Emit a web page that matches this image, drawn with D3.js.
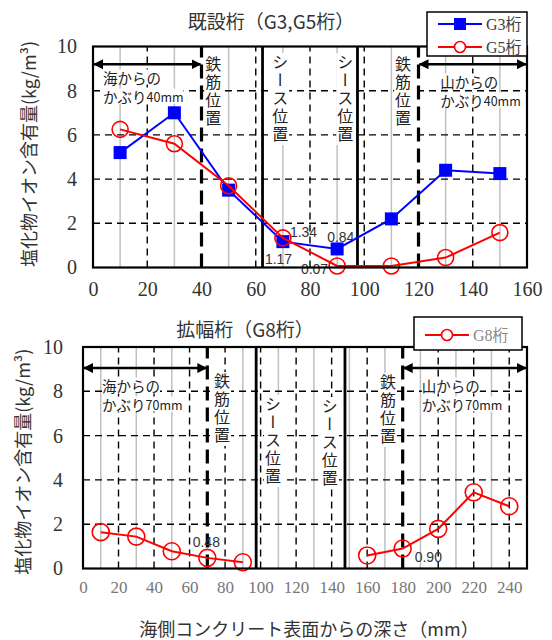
<!DOCTYPE html>
<html>
<head>
<meta charset="utf-8">
<script src="https://cdn.jsdelivr.net/npm/d3@7"></script>
<style>
  body { margin: 0; background: #fff; }
  svg { display: block; }
</style>
</head>
<body>
<svg id="canvas" width="552" height="640"></svg>
<script>
// depth (mm) and chloride content (kg/m3)
const topDepth = [10, 30, 50, 70, 90, 110, 130, 150]
const g3Values = [5.2, 7.0, 3.5, 1.17, 0.84, 2.2, 4.4, 4.25]
const g5Values = [6.25, 5.6, 3.7, 1.34, 0.07, 0.07, 0.45, 1.58]

const g8SeaDepth = [10, 30, 50, 70, 90]
const g8SeaValues = [1.64, 1.44, 0.78, 0.48, 0.28]
const g8MountainDepth = [160, 180, 200, 220, 240]
const g8MountainValues = [0.59, 0.90, 1.79, 3.44, 2.81]

const yTicks = [0, 2, 4, 6, 8, 10]
const yGrid = [2, 4, 6, 8]
const topXTicks = [0, 20, 40, 60, 80, 100, 120, 140, 160]
const bottomXTicks = [0, 20, 40, 60, 80, 100, 120, 140, 160, 180, 200, 220, 240]

const topRebar = [40, 120]
const topSheath = [62.5, 97.5]
const bottomRebar = [70, 180]
const bottomSheath = [97.5, 147.5]

const CJK = '"Noto Sans CJK JP", sans-serif'
const SERIF = '"Liberation Serif", "DejaVu Serif", serif'

let svg = d3.select('#canvas')

let defs = svg.append('defs')
defs.append('marker')
    .attr('id', 'arrow')
    .attr('viewBox', '0 0 10 10')
    .attr('refX', 9).attr('refY', 5)
    .attr('markerWidth', 4).attr('markerHeight', 4)
    .attr('orient', 'auto-start-reverse')
    .append('path')
    .attr('d', 'M0,0 L10,5 L0,10 z')
    .attr('fill', '#000')

let drawPanel = (p) => {
    let x = d3.scaleLinear().domain([0, p.xMax]).range([p.left, p.right])
    let y = d3.scaleLinear().domain([0, 10]).range([p.bottom, p.top])
    let g = svg.append('g')

    // light grey lines at the sampling depths
    g.selectAll('.gray').data(p.grayX).enter().append('line')
     .attr('x1', d => x(d)).attr('x2', d => x(d))
     .attr('y1', y(0)).attr('y2', y(10))
     .attr('stroke', '#c0c0c0').attr('stroke-width', 1.5)

    g.selectAll('.vdash').data(p.dashX).enter().append('line')
     .attr('x1', d => x(d)).attr('x2', d => x(d))
     .attr('y1', y(0)).attr('y2', y(10))
     .attr('stroke', '#000').attr('stroke-width', 1.4)
     .attr('stroke-dasharray', '7,5')

    g.selectAll('.hdash').data(yGrid).enter().append('line')
     .attr('x1', x(0)).attr('x2', x(p.xMax))
     .attr('y1', d => y(d)).attr('y2', d => y(d))
     .attr('stroke', '#000').attr('stroke-width', 1.4)
     .attr('stroke-dasharray', '7,5')

    // rebar (thick dashed) and sheath (thick solid)
    g.selectAll('.rebar').data(p.rebar).enter().append('line')
     .attr('x1', d => x(d)).attr('x2', d => x(d))
     .attr('y1', y(0)).attr('y2', y(10))
     .attr('stroke', '#000').attr('stroke-width', 3.2)
     .attr('stroke-dasharray', '14,7')

    g.selectAll('.sheath').data(p.sheath).enter().append('line')
     .attr('x1', d => x(d)).attr('x2', d => x(d))
     .attr('y1', y(0)).attr('y2', y(10))
     .attr('stroke', '#000').attr('stroke-width', 2.8)

    // vertical notes
    p.vnotes.forEach(n => {
        let chars = n.text.length
        g.append('rect')
         .attr('x', x(n.x) - 9).attr('y', n.top - 1)
         .attr('width', 18).attr('height', chars * 18 + 2)
         .attr('fill', '#fff')
        g.append('text')
         .attr('font-family', CJK)
         .attr('x', x(n.x)).attr('y', n.top)
         .style('writing-mode', 'vertical-rl')
         .style('letter-spacing', '2px')
         .attr('font-size', 16)
         .attr('fill', '#222')
         .text(n.text)
    })

    // horizontal notes
    p.hnotes.forEach(n => {
        let t = g.append('text')
                 .attr('font-family', CJK)
                 .attr('x', x(n.x)).attr('y', n.y)
                 .attr('dominant-baseline', 'central')
                 .attr('font-size', 14.5)
                 .attr('fill', '#222')
        t.append('tspan').text(n.text)
        if (n.small) {
            t.append('tspan').attr('font-size', 12.5).text(n.small)
        }
        let bb = t.node().getBBox()
        g.insert('rect', function() { return t.node() })
         .attr('x', bb.x).attr('y', bb.y + 3)
         .attr('width', bb.width).attr('height', bb.height - 6)
         .attr('fill', '#fff')
    })

    // cover arrows
    p.arrows.forEach(a => {
        g.append('line')
         .attr('x1', x(a[0]) + 1).attr('x2', x(a[1]) - 1)
         .attr('y1', y(p.arrowY)).attr('y2', y(p.arrowY))
         .attr('stroke', '#000').attr('stroke-width', 2.5)
         .attr('marker-start', 'url(#arrow)')
         .attr('marker-end', 'url(#arrow)')
    })

    // series
    p.series.forEach(s => {
        let pts = s.depth.map((d, i) => [d, s.values[i]])
        let line = d3.line().x(d => x(d[0])).y(d => y(d[1]))
        g.append('path')
         .attr('d', line(pts))
         .attr('fill', 'none')
         .attr('stroke', s.color).attr('stroke-width', 2)
        if (s.marker === 'square') {
            g.selectAll(null).data(pts).enter().append('rect')
             .attr('x', d => x(d[0]) - 6.5).attr('y', d => y(d[1]) - 6.5)
             .attr('width', 13).attr('height', 13)
             .attr('fill', s.color)
        } else {
            g.selectAll(null).data(pts).enter().append('circle')
             .attr('cx', d => x(d[0])).attr('cy', d => y(d[1]))
             .attr('r', s.r)
             .attr('fill', 'none')
             .attr('stroke', s.color).attr('stroke-width', 1.6)
        }
    })

    // value labels
    p.labels.forEach(l => {
        g.append('text')
         .attr('x', x(l.x) + l.dx).attr('y', y(l.y) + l.dy)
         .attr('dominant-baseline', 'central')
         .attr('text-anchor', l.anchor)
         .attr('font-family', '"Liberation Sans", sans-serif')
         .attr('font-size', 14)
         .attr('fill', '#333')
         .text(l.text)
    })

    // frame
    g.append('rect')
     .attr('x', x(0)).attr('y', y(10))
     .attr('width', x(p.xMax) - x(0)).attr('height', y(0) - y(10))
     .attr('fill', 'none').attr('stroke', '#000').attr('stroke-width', 2.2)

    // axes
    let yAxis = g.append('g')
                 .attr('transform', 'translate(' + x(0) + ',0)')
                 .call(d3.axisLeft(y).tickValues(yTicks).tickSize(0).tickPadding(p.yPad))
    yAxis.select('.domain').remove()
    yAxis.attr('font-family', SERIF).attr('font-size', 20)
    yAxis.selectAll('text').attr('fill', '#333')

    let xAxis = g.append('g')
                 .attr('transform', 'translate(0,' + y(0) + ')')
                 .call(d3.axisBottom(x).tickValues(p.xTicks).tickSize(0).tickPadding(p.xPad))
    xAxis.select('.domain').remove()
    xAxis.attr('font-family', SERIF).attr('font-size', p.xFont)
    xAxis.selectAll('text').attr('fill', p.xColor)

    // y axis title
    svg.append('text')
       .attr('font-family', CJK)
       .attr('transform', 'translate(' + p.yTitleX + ',' + (y(5) + p.yTitleShift) + ') rotate(-90)')
       .attr('text-anchor', 'middle')
       .attr('dominant-baseline', 'central')
       .attr('font-size', 18)
       .attr('fill', '#333')
       .text('塩化物イオン含有量(kg/m³)')

    // title
    svg.append('text')
       .attr('font-family', CJK)
       .attr('x', p.titleX).attr('y', p.titleY)
       .attr('text-anchor', 'middle')
       .attr('dominant-baseline', 'central')
       .attr('font-size', 19)
       .attr('fill', '#333')
       .text(p.title)

    // legend
    let lg = svg.append('g')
    lg.append('rect')
      .attr('x', p.legend.x).attr('y', p.legend.y)
      .attr('width', p.legend.w).attr('height', p.legend.h)
      .attr('fill', '#fff').attr('stroke', '#000').attr('stroke-width', 1.5)
    p.series.filter(s => s.name).forEach((s, i) => {
        let cy = p.legend.y + p.legend.first + i * 23
        let x0 = p.legend.x + 11
        lg.append('line')
          .attr('x1', x0).attr('x2', x0 + 44)
          .attr('y1', cy).attr('y2', cy)
          .attr('stroke', s.color).attr('stroke-width', 2)
        if (s.marker === 'square') {
            lg.append('rect')
              .attr('x', x0 + 22 - 6).attr('y', cy - 6)
              .attr('width', 12).attr('height', 12).attr('fill', s.color)
        } else {
            lg.append('circle')
              .attr('cx', x0 + 22).attr('cy', cy).attr('r', 5.5)
              .attr('fill', '#fff').attr('stroke', s.color).attr('stroke-width', 1.6)
        }
        lg.append('text')
          .attr('x', x0 + 48).attr('y', cy)
          .attr('dominant-baseline', 'central')
          .attr('font-family', '"Liberation Serif", "Noto Sans CJK JP", serif')
          .attr('font-size', 16)
          .attr('fill', p.legend.color)
          .text(s.name)
    })
}

drawPanel({
    left: 93, right: 527, top: 46.5, bottom: 267.5, xMax: 160,
    xTicks: topXTicks, xPad: 14, xFont: 20, xColor: '#333', yPad: 16,
    grayX: [10, 30, 50, 70, 90, 110, 130, 150],
    dashX: [20, 60, 80, 100, 140],
    rebar: topRebar, sheath: topSheath,
    arrowY: 9.2,
    arrows: [[0, 40], [120, 160]],
    vnotes: [
        {text: '鉄筋位置', x: 44.3, top: 56},
        {text: 'シース位置', x: 69, top: 54},
        {text: 'シース位置', x: 93, top: 54},
        {text: '鉄筋位置', x: 114.3, top: 56}
    ],
    hnotes: [
        {text: '海からの', x: 3.7, y: 77},
        {text: 'かぶり', small: '40mm', x: 3.7, y: 96},
        {text: '山からの', x: 128, y: 81},
        {text: 'かぶり', small: '40mm', x: 128, y: 100}
    ],
    series: [
        {name: 'G3桁', depth: topDepth, values: g3Values, color: '#0000ff', marker: 'square'},
        {name: 'G5桁', depth: topDepth, values: g5Values, color: '#ff0000', marker: 'circle', r: 8}
    ],
    labels: [
        {text: '1.34', x: 70, y: 1.34, dx: 7, dy: -6, anchor: 'start'},
        {text: '1.17', x: 70, y: 1.17, dx: -18, dy: 17, anchor: 'start'},
        {text: '0.84', x: 90, y: 0.84, dx: -10, dy: -12, anchor: 'start'},
        {text: '0.07', x: 90, y: 0.07, dx: -9, dy: 3, anchor: 'end'}
    ],
    yTitleX: 28, yTitleShift: -3,
    title: '既設桁（G3,G5桁）', titleX: 271, titleY: 20,
    legend: {x: 427, y: 12, w: 100, h: 44, first: 12, color: '#404040'}
})

drawPanel({
    left: 83, right: 527, top: 347, bottom: 568.5, xMax: 250,
    xTicks: bottomXTicks, xPad: 12, xFont: 17, xColor: '#777', yPad: 20,
    grayX: [10, 30, 50, 90, 110, 130, 150, 170, 190, 210, 230],
    dashX: [20, 40, 60, 80, 100, 120, 140, 160, 200, 220, 240],
    rebar: bottomRebar, sheath: bottomSheath,
    arrowY: 9.05,
    arrows: [[0, 70], [180, 250]],
    vnotes: [
        {text: '鉄筋位置', x: 78.3, top: 373},
        {text: 'シース位置', x: 107, top: 396},
        {text: 'シース位置', x: 139, top: 398},
        {text: '鉄筋位置', x: 171.7, top: 374}
    ],
    hnotes: [
        {text: '海からの', x: 10.7, y: 385},
        {text: 'かぶり', small: '70mm', x: 10.7, y: 404},
        {text: '山からの', x: 190.8, y: 385},
        {text: 'かぶり', small: '70mm', x: 190.8, y: 404}
    ],
    series: [
        {name: 'G8桁', depth: g8SeaDepth, values: g8SeaValues, color: '#ff0000', marker: 'circle', r: 8.5},
        {name: null, depth: g8MountainDepth, values: g8MountainValues, color: '#ff0000', marker: 'circle', r: 8.5}
    ],
    labels: [
        {text: '0.48', x: 70, y: 0.48, dx: -1, dy: -16, anchor: 'middle'},
        {text: '0.90', x: 180, y: 0.90, dx: 12, dy: 8, anchor: 'start'}
    ],
    yTitleX: 22, yTitleShift: 4,
    title: '拡幅桁（G8桁）', titleX: 245, titleY: 328,
    legend: {x: 414, y: 317, w: 108, h: 33, first: 18, color: '#888'}
})

// shared x axis title
svg.append('text')
   .attr('font-family', CJK)
   .attr('x', 309).attr('y', 628)
   .attr('text-anchor', 'middle')
   .attr('dominant-baseline', 'central')
   .attr('font-size', 18)
   .attr('fill', '#333')
   .text('海側コンクリート表面からの深さ（mm）')
</script>
</body>
</html>
